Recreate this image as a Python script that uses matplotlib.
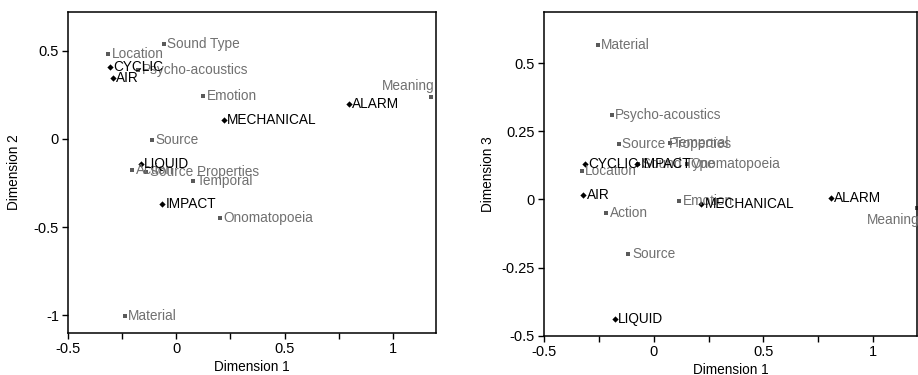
import numpy as np
import matplotlib
matplotlib.use('Agg')
import matplotlib.pyplot as plt
from matplotlib.ticker import FixedLocator, FuncFormatter

plt.rcParams['font.family'] = ['Liberation Sans', 'DejaVu Sans']

# sound categories (black diamonds)
cat_names = ['CYCLIC', 'AIR', 'ALARM', 'MECHANICAL', 'LIQUID', 'IMPACT']
cat_dim1_a = [-0.305, -0.294, 0.796, 0.219, -0.164, -0.064]
cat_dim2 = [0.41, 0.346, 0.20, 0.105, -0.142, -0.367]
cat_dim1_b = [-0.315, -0.321, 0.806, 0.216, -0.177, -0.076]
cat_dim3 = [0.132, 0.018, 0.004, -0.015, -0.439, 0.129]

# description attributes (grey squares)
att_names = ['Location', 'Sound Type', 'Psycho-acoustics', 'Meaning', 'Emotion',
             'Source', 'Action', 'Source Properties', 'Temporal',
             'Onomatopoeia', 'Material']
att_dim1_a = [-0.314, -0.058, -0.176, 1.178, 0.124, -0.112, -0.204, -0.138,
              0.077, 0.201, -0.238]
att_dim2 = [0.484, 0.54, 0.39, 0.238, 0.245, -0.006, -0.176, -0.185, -0.24,
            -0.45, -1.002]
att_dim1_b = [-0.329, -0.07, -0.191, 1.198, 0.115, -0.115, -0.217, -0.159,
              0.073, 0.15, -0.256]
att_dim3 = [0.104, 0.13, 0.309, -0.033, -0.004, -0.2, -0.051, 0.204, 0.206,
            0.13, 0.567]

grey_txt = '#707070'
grey_mk = '#5a5a5a'
fs = 9.8


def fmt(v, pos):
    return '%g' % v


def draw_panel(ax, cx, cy, ax_, ay, meaning_off, meaning_va):
    ax.plot(ax_, ay, 's', color=grey_mk, markersize=3, markeredgewidth=0)
    ax.plot(cx, cy, 'D', color='black', markersize=3.2, markeredgewidth=0)
    for n, x, y in zip(att_names, ax_, ay):
        if n == 'Meaning':
            ax.annotate(n, (x, y), xytext=meaning_off, textcoords='offset points',
                        ha='right', va=meaning_va, color=grey_txt, fontsize=fs,
                        annotation_clip=False)
        else:
            ax.annotate(n, (x, y), xytext=(2.5, 0), textcoords='offset points',
                        ha='left', va='center', color=grey_txt, fontsize=fs,
                        annotation_clip=False)
    for n, x, y in zip(cat_names, cx, cy):
        ax.annotate(n, (x, y), xytext=(2.5, 0), textcoords='offset points',
                    ha='left', va='center', color='black', fontsize=fs,
                    annotation_clip=False)
    ax.set_xlim(-0.5, 1.2)
    ax.xaxis.set_major_locator(FixedLocator([-0.5, 0, 0.5, 1]))
    ax.xaxis.set_minor_locator(FixedLocator([-0.25, 0.25, 0.75]))
    ax.xaxis.set_major_formatter(FuncFormatter(fmt))
    ax.yaxis.set_major_formatter(FuncFormatter(fmt))
    ax.tick_params(which='both', direction='out', length=4.5, width=1,
                   labelsize=10.5, pad=2)
    for s in ax.spines.values():
        s.set_linewidth(1.1)
    ax.set_xlabel('Dimension 1', fontsize=fs, labelpad=3)


fig = plt.figure(figsize=(9.18, 3.75), dpi=100)

ax1 = fig.add_axes([0.0741, 0.112, 0.401, 0.856])
draw_panel(ax1, cat_dim1_a, cat_dim2, att_dim1_a, att_dim2, (2, 3), 'bottom')
ax1.set_ylim(-1.1, 0.72)
ax1.yaxis.set_major_locator(FixedLocator([-1, -0.5, 0, 0.5]))
ax1.set_ylabel('Dimension 2', fontsize=fs, labelpad=9)

ax2 = fig.add_axes([0.5926, 0.105, 0.4063, 0.864])
draw_panel(ax2, cat_dim1_b, cat_dim3, att_dim1_b, att_dim3, (2, -3), 'top')
ax2.set_ylim(-0.5, 0.69)
ax2.yaxis.set_major_locator(FixedLocator([-0.5, -0.25, 0, 0.25, 0.5]))
ax2.set_ylabel('Dimension 3', fontsize=fs, labelpad=5)

fig.savefig('out.png', dpi=100)
